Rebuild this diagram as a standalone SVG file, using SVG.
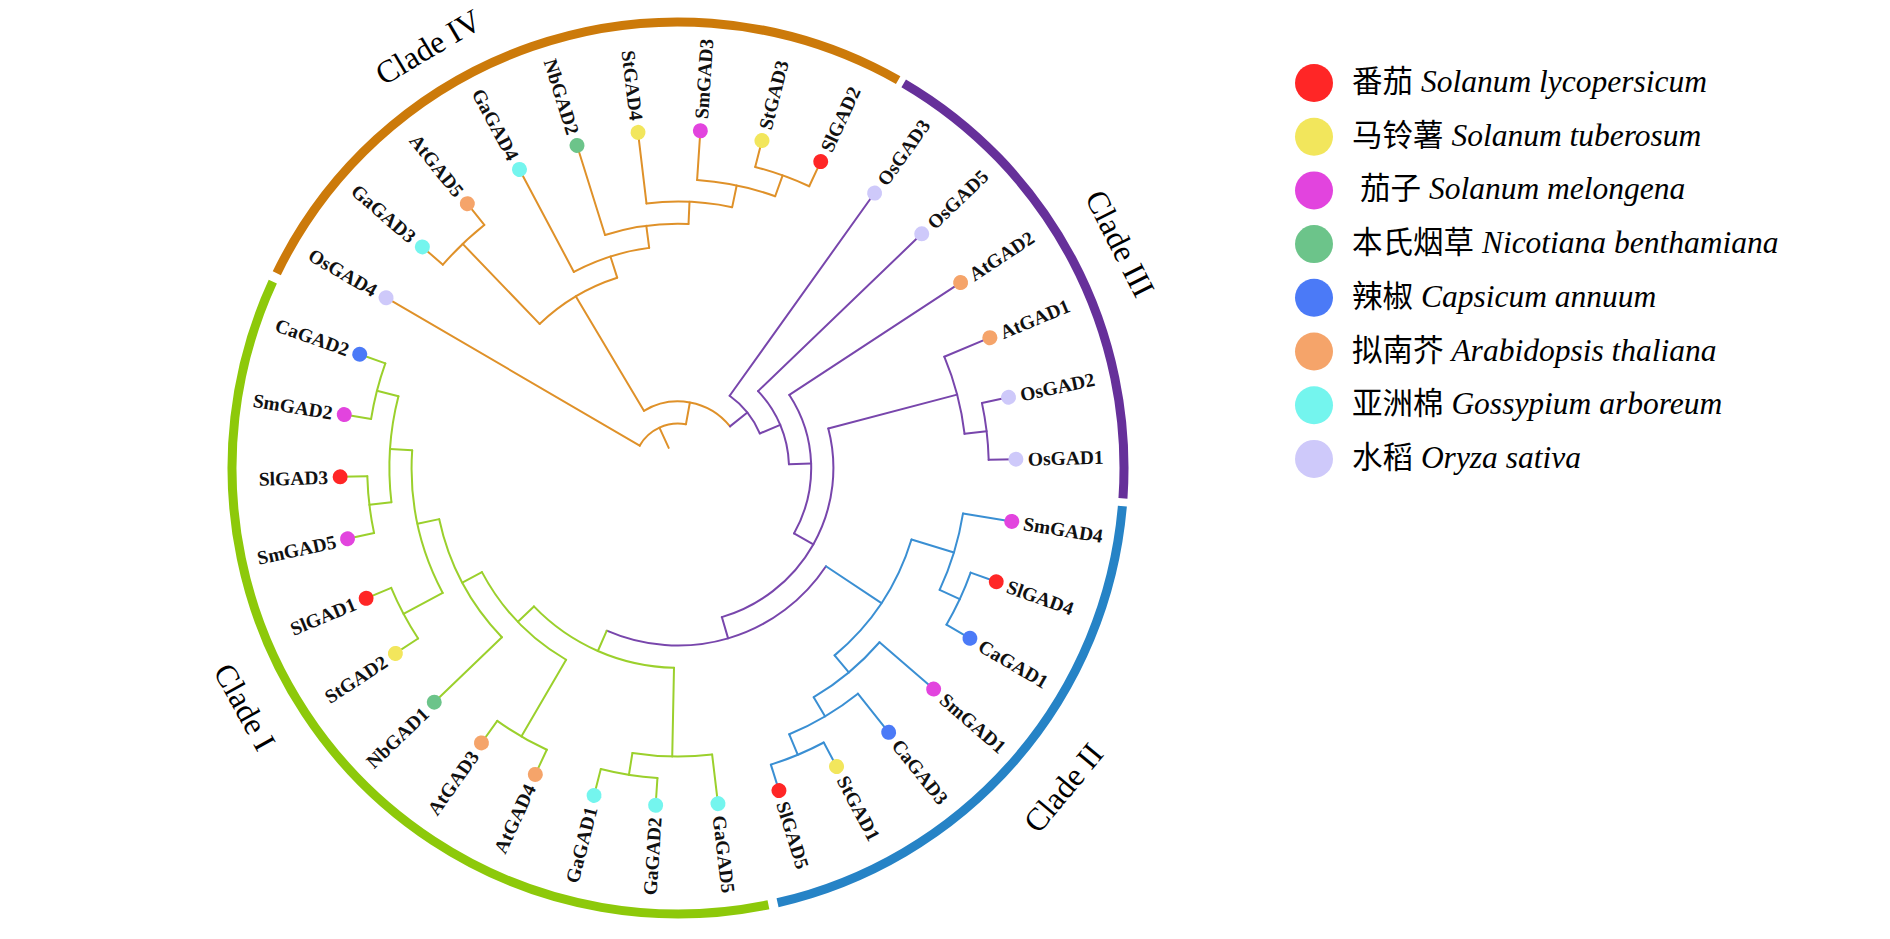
<svg xmlns="http://www.w3.org/2000/svg" width="1890" height="939" viewBox="0 0 1890 939">
<style>
.br{fill:none;stroke-width:2;stroke-linecap:round}
.o{stroke:#DF9129}.p{stroke:#7846AC}.b{stroke:#3A8FD3}.g{stroke:#9BD02C}
.ca{fill:none;stroke-width:9}
.lbl{font-family:"Liberation Serif",serif;font-weight:bold;font-size:19.5px;fill:#111}
.cl{font-family:"Liberation Serif",serif;font-size:32px;fill:#000}
.lg{font-family:"Liberation Serif","Noto Sans CJK SC",serif;font-size:30.5px;fill:#000}
.la{font-style:italic;font-size:31.5px}
.sl{fill:#FF2626}.st{fill:#F2E65C}.sm{fill:#E244DE}.nb{fill:#6CC48A}.cap{fill:#4B7AF7}.at{fill:#F5A46A}.ga{fill:#74F5EE}.os{fill:#CEC9FA}
</style>
<rect width="1890" height="939" fill="#fff"/>
<g transform="translate(678,468)">
<g id="clade-arcs">
<circle class="ca" r="446" stroke="#CC7A0A" pathLength="360" stroke-dasharray="93.7 360" transform="rotate(205.9)"/>
<circle class="ca" r="446" stroke="#66309A" pathLength="360" stroke-dasharray="63.5 360" transform="rotate(300.4)"/>
<circle class="ca" r="446" stroke="#2683C6" pathLength="360" stroke-dasharray="72.2 360" transform="rotate(4.9)"/>
<circle class="ca" r="446" stroke="#8DC90A" pathLength="360" stroke-dasharray="126.4 360" transform="rotate(78.3)"/>
</g>
<g id="connectors">
<!-- Clade IV (orange) -->
<line class="br o" x1="22.2" x2="44.4" transform="rotate(245.271)"/>
<circle class="br o" r="44.4" pathLength="360" stroke-dasharray="70.012 360" transform="rotate(210.265)"/>
<line class="br o" x1="44.4" x2="338" transform="rotate(210.265)"/>
<line class="br o" x1="44.4" x2="66.6" transform="rotate(280.277)"/>
<circle class="br o" r="66.6" pathLength="360" stroke-dasharray="82.121 360" transform="rotate(239.217)"/>
<line class="br o" x1="66.6" x2="199.8" transform="rotate(239.217)"/>
<circle class="br o" r="199.8" pathLength="360" stroke-dasharray="26.14 360" transform="rotate(226.147)"/>
<line class="br o" x1="199.8" x2="310.8" transform="rotate(226.147)"/>
<circle class="br o" r="310.8" pathLength="360" stroke-dasharray="10.588 360" transform="rotate(220.853)"/>
<line class="br o" x1="310.8" x2="338" transform="rotate(220.853)"/>
<line class="br o" x1="310.8" x2="338" transform="rotate(231.441)"/>
<line class="br o" x1="199.8" x2="222" transform="rotate(252.287)"/>
<circle class="br o" r="222" pathLength="360" stroke-dasharray="20.515 360" transform="rotate(242.029)"/>
<line class="br o" x1="222" x2="338" transform="rotate(242.029)"/>
<line class="br o" x1="222" x2="244.2" transform="rotate(262.544)"/>
<circle class="br o" r="244.2" pathLength="360" stroke-dasharray="19.853 360" transform="rotate(252.618)"/>
<line class="br o" x1="244.2" x2="338" transform="rotate(252.618)"/>
<line class="br o" x1="244.2" x2="266.4" transform="rotate(272.471)"/>
<circle class="br o" r="266.4" pathLength="360" stroke-dasharray="18.529 360" transform="rotate(263.206)"/>
<line class="br o" x1="266.4" x2="338" transform="rotate(263.206)"/>
<line class="br o" x1="266.4" x2="288.6" transform="rotate(281.735)"/>
<circle class="br o" r="288.6" pathLength="360" stroke-dasharray="15.882 360" transform="rotate(273.794)"/>
<line class="br o" x1="288.6" x2="338" transform="rotate(273.794)"/>
<line class="br o" x1="288.6" x2="310.8" transform="rotate(289.676)"/>
<circle class="br o" r="310.8" pathLength="360" stroke-dasharray="10.588 360" transform="rotate(284.382)"/>
<line class="br o" x1="310.8" x2="338" transform="rotate(284.382)"/>
<line class="br o" x1="310.8" x2="338" transform="rotate(294.971)"/>
<!-- Clade III (purple) -->
<line class="br p" x1="66.6" x2="88.8" transform="rotate(321.338)"/>
<circle class="br p" r="88.8" pathLength="360" stroke-dasharray="31.558 360" transform="rotate(305.559)"/>
<line class="br p" x1="88.8" x2="338" transform="rotate(305.559)"/>
<line class="br p" x1="88.8" x2="111" transform="rotate(337.117)"/>
<circle class="br p" r="111" pathLength="360" stroke-dasharray="41.939 360" transform="rotate(316.147)"/>
<line class="br p" x1="111" x2="338" transform="rotate(316.147)"/>
<line class="br p" x1="111" x2="133.2" transform="rotate(358.086)"/>
<circle class="br p" r="133.2" pathLength="360" stroke-dasharray="62.703 360" transform="rotate(326.735)"/>
<line class="br p" x1="133.2" x2="338" transform="rotate(326.735)"/>
<line class="br p" x1="133.2" x2="155.4" transform="rotate(389.438)"/>
<circle class="br p" r="155.4" pathLength="360" stroke-dasharray="88.345 360" transform="rotate(345.265)"/>
<line class="br p" x1="155.4" x2="288.6" transform="rotate(345.265)"/>
<circle class="br p" r="288.6" pathLength="360" stroke-dasharray="15.882 360" transform="rotate(337.324)"/>
<line class="br p" x1="288.6" x2="338" transform="rotate(337.324)"/>
<line class="br p" x1="288.6" x2="310.8" transform="rotate(353.206)"/>
<circle class="br p" r="310.8" pathLength="360" stroke-dasharray="10.588 360" transform="rotate(347.912)"/>
<line class="br p" x1="310.8" x2="338" transform="rotate(347.912)"/>
<line class="br p" x1="310.8" x2="338" transform="rotate(358.5)"/>
<line class="br p" x1="155.4" x2="177.6" transform="rotate(433.61)"/>
<circle class="br p" r="177.6" pathLength="360" stroke-dasharray="80.073 360" transform="rotate(393.574)"/>
<!-- Clade II (blue) -->
<line class="br b" x1="177.6" x2="244.2" transform="rotate(393.574)"/>
<circle class="br b" r="244.2" pathLength="360" stroke-dasharray="33.089 360" transform="rotate(377.029)"/>
<line class="br b" x1="244.2" x2="288.6" transform="rotate(377.029)"/>
<circle class="br b" r="288.6" pathLength="360" stroke-dasharray="15.883 360" transform="rotate(369.088)"/>
<line class="br b" x1="288.6" x2="338" transform="rotate(369.088)"/>
<line class="br b" x1="288.6" x2="310.8" transform="rotate(384.971)"/>
<circle class="br b" r="310.8" pathLength="360" stroke-dasharray="10.589 360" transform="rotate(379.676)"/>
<line class="br b" x1="310.8" x2="338" transform="rotate(379.676)"/>
<line class="br b" x1="310.8" x2="338" transform="rotate(390.265)"/>
<line class="br b" x1="244.2" x2="266.4" transform="rotate(410.118)"/>
<circle class="br b" r="266.4" pathLength="360" stroke-dasharray="18.529 360" transform="rotate(400.853)"/>
<line class="br b" x1="266.4" x2="338" transform="rotate(400.853)"/>
<line class="br b" x1="266.4" x2="288.6" transform="rotate(419.382)"/>
<circle class="br b" r="288.6" pathLength="360" stroke-dasharray="15.883 360" transform="rotate(411.441)"/>
<line class="br b" x1="288.6" x2="338" transform="rotate(411.441)"/>
<line class="br b" x1="288.6" x2="310.8" transform="rotate(427.324)"/>
<circle class="br b" r="310.8" pathLength="360" stroke-dasharray="10.589 360" transform="rotate(422.029)"/>
<line class="br b" x1="310.8" x2="338" transform="rotate(422.029)"/>
<line class="br b" x1="310.8" x2="338" transform="rotate(432.618)"/>
<!-- Clade I (green) -->
<line class="br g" x1="177.6" x2="199.8" transform="rotate(473.647)"/>
<circle class="br g" r="199.8" pathLength="360" stroke-dasharray="45 360" transform="rotate(451.147)"/>
<line class="br g" x1="199.8" x2="288.6" transform="rotate(451.147)"/>
<circle class="br g" r="288.6" pathLength="360" stroke-dasharray="15.882 360" transform="rotate(443.206)"/>
<line class="br g" x1="288.6" x2="338" transform="rotate(443.206)"/>
<line class="br g" x1="288.6" x2="310.8" transform="rotate(459.088)"/>
<circle class="br g" r="310.8" pathLength="360" stroke-dasharray="10.588 360" transform="rotate(453.794)"/>
<line class="br g" x1="310.8" x2="338" transform="rotate(453.794)"/>
<line class="br g" x1="310.8" x2="338" transform="rotate(464.382)"/>
<line class="br g" x1="199.8" x2="222" transform="rotate(496.147)"/>
<circle class="br g" r="222" pathLength="360" stroke-dasharray="31.764 360" transform="rotate(480.265)"/>
<line class="br g" x1="222" x2="310.8" transform="rotate(480.265)"/>
<circle class="br g" r="310.8" pathLength="360" stroke-dasharray="10.588 360" transform="rotate(474.971)"/>
<line class="br g" x1="310.8" x2="338" transform="rotate(474.971)"/>
<line class="br g" x1="310.8" x2="338" transform="rotate(485.559)"/>
<line class="br g" x1="222" x2="244.2" transform="rotate(512.029)"/>
<circle class="br g" r="244.2" pathLength="360" stroke-dasharray="31.765 360" transform="rotate(496.147)"/>
<line class="br g" x1="244.2" x2="338" transform="rotate(496.147)"/>
<line class="br g" x1="244.2" x2="266.4" transform="rotate(527.912)"/>
<circle class="br g" r="266.4" pathLength="360" stroke-dasharray="31.765 360" transform="rotate(512.029)"/>
<line class="br g" x1="266.4" x2="310.8" transform="rotate(512.029)"/>
<circle class="br g" r="310.8" pathLength="360" stroke-dasharray="10.589 360" transform="rotate(506.735)"/>
<line class="br g" x1="310.8" x2="338" transform="rotate(506.735)"/>
<line class="br g" x1="310.8" x2="338" transform="rotate(517.324)"/>
<line class="br g" x1="266.4" x2="288.6" transform="rotate(543.794)"/>
<circle class="br g" r="288.6" pathLength="360" stroke-dasharray="21.176 360" transform="rotate(533.206)"/>
<line class="br g" x1="288.6" x2="310.8" transform="rotate(533.206)"/>
<circle class="br g" r="310.8" pathLength="360" stroke-dasharray="10.588 360" transform="rotate(527.912)"/>
<line class="br g" x1="310.8" x2="338" transform="rotate(527.912)"/>
<line class="br g" x1="310.8" x2="338" transform="rotate(538.5)"/>
<line class="br g" x1="288.6" x2="310.8" transform="rotate(554.382)"/>
<circle class="br g" r="310.8" pathLength="360" stroke-dasharray="10.588 360" transform="rotate(549.088)"/>
<line class="br g" x1="310.8" x2="338" transform="rotate(549.088)"/>
<line class="br g" x1="310.8" x2="338" transform="rotate(559.676)"/>
</g>
<g id="leaves">
<g id="OsGAD1" transform="rotate(-1.5)"><circle class="os" cx="338" r="7.5"/><text class="lbl" x="350" dy="0.35em">OsGAD1</text></g>
<g id="SmGAD4" transform="rotate(9.088)"><circle class="sm" cx="338" r="7.5"/><text class="lbl" x="350" dy="0.35em">SmGAD4</text></g>
<g id="SlGAD4" transform="rotate(19.676)"><circle class="sl" cx="338" r="7.5"/><text class="lbl" x="350" dy="0.35em">SlGAD4</text></g>
<g id="CaGAD1" transform="rotate(30.265)"><circle class="cap" cx="338" r="7.5"/><text class="lbl" x="350" dy="0.35em">CaGAD1</text></g>
<g id="SmGAD1" transform="rotate(40.853)"><circle class="sm" cx="338" r="7.5"/><text class="lbl" x="350" dy="0.35em">SmGAD1</text></g>
<g id="CaGAD3" transform="rotate(51.441)"><circle class="cap" cx="338" r="7.5"/><text class="lbl" x="350" dy="0.35em">CaGAD3</text></g>
<g id="StGAD1" transform="rotate(62.029)"><circle class="st" cx="338" r="7.5"/><text class="lbl" x="350" dy="0.35em">StGAD1</text></g>
<g id="SlGAD5" transform="rotate(72.618)"><circle class="sl" cx="338" r="7.5"/><text class="lbl" x="350" dy="0.35em">SlGAD5</text></g>
<g id="GaGAD5" transform="rotate(83.206)"><circle class="ga" cx="338" r="7.5"/><text class="lbl" x="350" dy="0.35em">GaGAD5</text></g>
<g id="GaGAD2" transform="rotate(-86.206)"><circle class="ga" cx="-338" r="7.5"/><text class="lbl" x="-350" dy="0.35em" text-anchor="end">GaGAD2</text></g>
<g id="GaGAD1" transform="rotate(-75.618)"><circle class="ga" cx="-338" r="7.5"/><text class="lbl" x="-350" dy="0.35em" text-anchor="end">GaGAD1</text></g>
<g id="AtGAD4" transform="rotate(-65.029)"><circle class="at" cx="-338" r="7.5"/><text class="lbl" x="-350" dy="0.35em" text-anchor="end">AtGAD4</text></g>
<g id="AtGAD3" transform="rotate(-54.441)"><circle class="at" cx="-338" r="7.5"/><text class="lbl" x="-350" dy="0.35em" text-anchor="end">AtGAD3</text></g>
<g id="NbGAD1" transform="rotate(-43.853)"><circle class="nb" cx="-338" r="7.5"/><text class="lbl" x="-350" dy="0.35em" text-anchor="end">NbGAD1</text></g>
<g id="StGAD2" transform="rotate(-33.265)"><circle class="st" cx="-338" r="7.5"/><text class="lbl" x="-350" dy="0.35em" text-anchor="end">StGAD2</text></g>
<g id="SlGAD1" transform="rotate(-22.676)"><circle class="sl" cx="-338" r="7.5"/><text class="lbl" x="-350" dy="0.35em" text-anchor="end">SlGAD1</text></g>
<g id="SmGAD5" transform="rotate(-12.088)"><circle class="sm" cx="-338" r="7.5"/><text class="lbl" x="-350" dy="0.35em" text-anchor="end">SmGAD5</text></g>
<g id="SlGAD3" transform="rotate(-1.5)"><circle class="sl" cx="-338" r="7.5"/><text class="lbl" x="-350" dy="0.35em" text-anchor="end">SlGAD3</text></g>
<g id="SmGAD2" transform="rotate(9.088)"><circle class="sm" cx="-338" r="7.5"/><text class="lbl" x="-350" dy="0.35em" text-anchor="end">SmGAD2</text></g>
<g id="CaGAD2" transform="rotate(19.676)"><circle class="cap" cx="-338" r="7.5"/><text class="lbl" x="-350" dy="0.35em" text-anchor="end">CaGAD2</text></g>
<g id="OsGAD4" transform="rotate(30.265)"><circle class="os" cx="-338" r="7.5"/><text class="lbl" x="-350" dy="0.35em" text-anchor="end">OsGAD4</text></g>
<g id="GaGAD3" transform="rotate(40.853)"><circle class="ga" cx="-338" r="7.5"/><text class="lbl" x="-350" dy="0.35em" text-anchor="end">GaGAD3</text></g>
<g id="AtGAD5" transform="rotate(51.441)"><circle class="at" cx="-338" r="7.5"/><text class="lbl" x="-350" dy="0.35em" text-anchor="end">AtGAD5</text></g>
<g id="GaGAD4" transform="rotate(62.029)"><circle class="ga" cx="-338" r="7.5"/><text class="lbl" x="-350" dy="0.35em" text-anchor="end">GaGAD4</text></g>
<g id="NbGAD2" transform="rotate(72.618)"><circle class="nb" cx="-338" r="7.5"/><text class="lbl" x="-350" dy="0.35em" text-anchor="end">NbGAD2</text></g>
<g id="StGAD4" transform="rotate(83.206)"><circle class="st" cx="-338" r="7.5"/><text class="lbl" x="-350" dy="0.35em" text-anchor="end">StGAD4</text></g>
<g id="SmGAD3" transform="rotate(273.794)"><circle class="sm" cx="338" r="7.5"/><text class="lbl" x="350" dy="0.35em">SmGAD3</text></g>
<g id="StGAD3" transform="rotate(284.382)"><circle class="st" cx="338" r="7.5"/><text class="lbl" x="350" dy="0.35em">StGAD3</text></g>
<g id="SlGAD2" transform="rotate(294.971)"><circle class="sl" cx="338" r="7.5"/><text class="lbl" x="350" dy="0.35em">SlGAD2</text></g>
<g id="OsGAD3" transform="rotate(305.559)"><circle class="os" cx="338" r="7.5"/><text class="lbl" x="350" dy="0.35em">OsGAD3</text></g>
<g id="OsGAD5" transform="rotate(316.147)"><circle class="os" cx="338" r="7.5"/><text class="lbl" x="350" dy="0.35em">OsGAD5</text></g>
<g id="AtGAD2" transform="rotate(326.735)"><circle class="at" cx="338" r="7.5"/><text class="lbl" x="350" dy="0.35em">AtGAD2</text></g>
<g id="AtGAD1" transform="rotate(337.324)"><circle class="at" cx="338" r="7.5"/><text class="lbl" x="350" dy="0.35em">AtGAD1</text></g>
<g id="OsGAD2" transform="rotate(347.912)"><circle class="os" cx="338" r="7.5"/><text class="lbl" x="350" dy="0.35em">OsGAD2</text></g>
</g>
</g>
<g id="clade-labels">
<text class="cl" text-anchor="middle" dy="0.35em" transform="translate(428,46.7) rotate(-30.7)">Clade IV</text>
<text class="cl" text-anchor="middle" dy="0.35em" transform="translate(1120.3,243.3) rotate(63.1)">Clade III</text>
<text class="cl" text-anchor="middle" dy="0.35em" transform="translate(1063.1,787.5) rotate(-50.3)">Clade II</text>
<text class="cl" text-anchor="middle" dy="0.35em" transform="translate(245.2,706.7) rotate(61.1)">Clade I</text>
</g>
<g id="legend">
<g id="lg-sl"><circle class="sl" cx="1314" cy="83" r="19"/><text class="lg" x="1352" y="92">番茄<tspan class="la"> Solanum lycopersicum</tspan></text></g>
<g id="lg-st"><circle class="st" cx="1314" cy="136.7" r="19"/><text class="lg" x="1352" y="145.7">马铃薯<tspan class="la"> Solanum tuberosum</tspan></text></g>
<g id="lg-sm"><circle class="sm" cx="1314" cy="190.4" r="19"/><text class="lg" x="1360" y="199.4">茄子<tspan class="la"> Solanum melongena</tspan></text></g>
<g id="lg-nb"><circle class="nb" cx="1314" cy="244.1" r="19"/><text class="lg" x="1352" y="253.1">本氏烟草<tspan class="la"> Nicotiana benthamiana</tspan></text></g>
<g id="lg-ca"><circle class="cap" cx="1314" cy="297.8" r="19"/><text class="lg" x="1352" y="306.8">辣椒<tspan class="la"> Capsicum annuum</tspan></text></g>
<g id="lg-at"><circle class="at" cx="1314" cy="351.5" r="19"/><text class="lg" x="1352" y="360.5">拟南芥<tspan class="la"> Arabidopsis thaliana</tspan></text></g>
<g id="lg-ga"><circle class="ga" cx="1314" cy="405.2" r="19"/><text class="lg" x="1352" y="414.2">亚洲棉<tspan class="la"> Gossypium arboreum</tspan></text></g>
<g id="lg-os"><circle class="os" cx="1314" cy="458.9" r="19"/><text class="lg" x="1352" y="467.9">水稻<tspan class="la"> Oryza sativa</tspan></text></g>
</g>
</svg>
